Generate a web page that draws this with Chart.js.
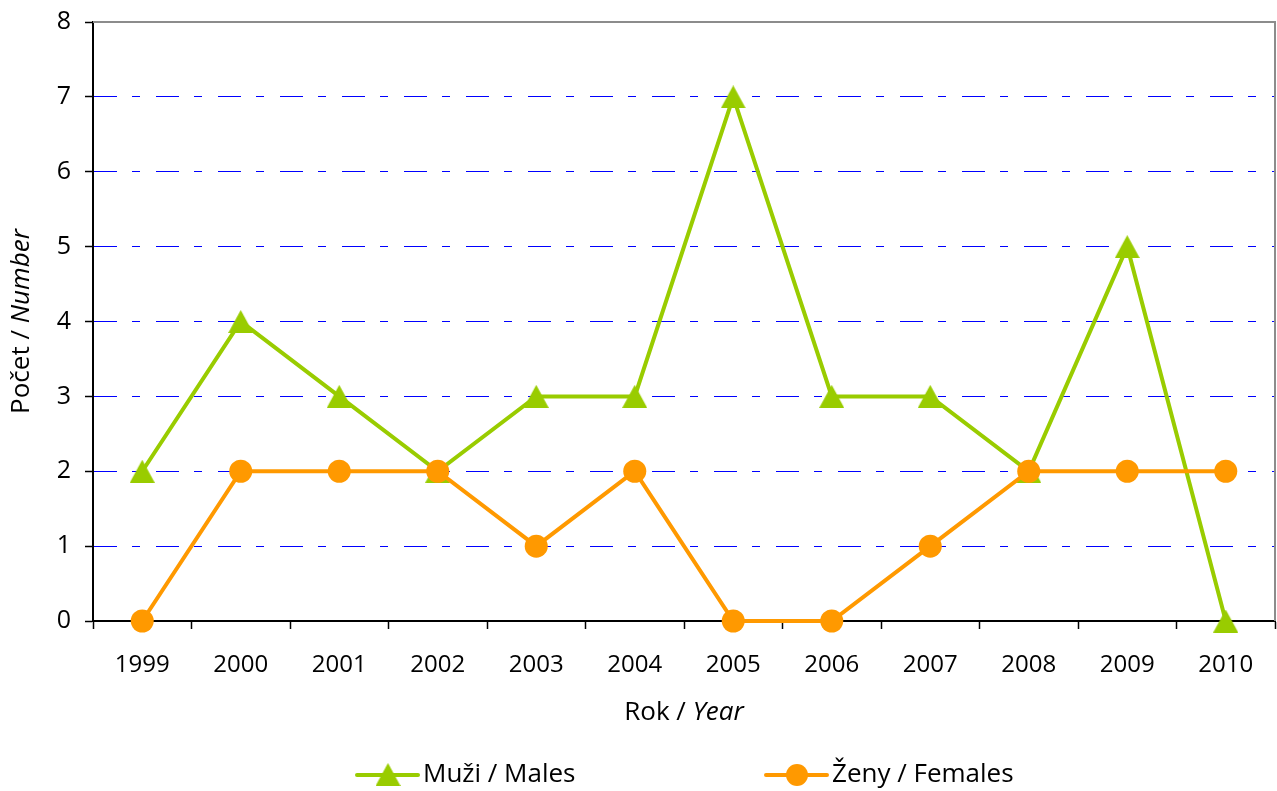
<!DOCTYPE html>
<html>
<head>
<meta charset="utf-8">
<script src="https://cdn.jsdelivr.net/npm/chart.js@4.4.1/dist/chart.umd.min.js"></script>
<style>
  html, body { margin: 0; padding: 0; background: #fff; }
  #wrap { width: 1277px; height: 791px; }
</style>
</head>
<body>
<div id="wrap"><canvas id="myChart" width="1277" height="791"></canvas></div>
<script>
// data
const years = ["1999", "2000", "2001", "2002", "2003", "2004", "2005", "2006", "2007", "2008", "2009", "2010"];
const males = [2, 4, 3, 2, 3, 3, 7, 3, 3, 2, 5, 0];
const females = [0, 2, 2, 2, 1, 2, 0, 0, 1, 2, 2, 2];
const seriesNames = ["Muži / Males", "Ženy / Females"];
const yTicks = [0, 1, 2, 3, 4, 5, 6, 7, 8];

const GREEN = "#99CC00";
const ORANGE = "#FF9900";
const FONT = "'Open Sans', 'DejaVu Sans', sans-serif";

// triangle marker as an image so it sits centred on the point
function triangleImg(w, h, color) {
    const c = document.createElement("canvas");
    c.width = w; c.height = h;
    const g = c.getContext("2d");
    g.fillStyle = color;
    g.beginPath();
    g.moveTo(w / 2, 0);
    g.lineTo(w, h);
    g.lineTo(0, h);
    g.closePath();
    g.fill();
    return c;
}
const tri = triangleImg(25, 23, GREEN);

// axis titles (with italic english part), frame and legend
const extras = {
    id: "extras",
    afterDraw(chart) {
        const ctx = chart.ctx;
        const a = chart.chartArea;
        ctx.save();

        // grey frame on top and right
        ctx.strokeStyle = "#8c8c8c";
        ctx.lineWidth = 2;
        ctx.beginPath();
        ctx.moveTo(a.left, a.top);
        ctx.lineTo(a.right, a.top);
        ctx.lineTo(a.right, a.bottom);
        ctx.stroke();

        ctx.fillStyle = "#000";
        ctx.textBaseline = "middle";

        function mixed(parts, x, y) {
            let total = 0;
            parts.forEach(p => { ctx.font = p[1]; total += ctx.measureText(p[0]).width; });
            let cx = x - total / 2;
            ctx.textAlign = "left";
            parts.forEach(p => { ctx.font = p[1]; ctx.fillText(p[0], cx, y); cx += ctx.measureText(p[0]).width; });
        }

        // x title
        mixed([["Rok / ", "26px " + FONT], ["Year", "italic 26px " + FONT]], (a.left + a.right) / 2, 713);

        // y title
        ctx.save();
        ctx.translate(22, (a.top + a.bottom) / 2);
        ctx.rotate(-Math.PI / 2);
        mixed([["Počet / ", "26px " + FONT], ["Number", "italic 26px " + FONT]], 0, 0);
        ctx.restore();

        // legend
        const ly = 775;
        const items = [
            { x: 357, color: GREEN, label: seriesNames[0], tri: true },
            { x: 766, color: ORANGE, label: seriesNames[1], tri: false }
        ];
        items.forEach(it => {
            ctx.strokeStyle = it.color;
            ctx.lineWidth = 4;
            ctx.lineCap = "round";
            ctx.beginPath();
            ctx.moveTo(it.x, ly);
            ctx.lineTo(it.x + 61, ly);
            ctx.stroke();
            const mx = it.x + 31;
            if (it.tri) {
                ctx.drawImage(tri, mx - 12.5, ly - 12, 25, 23);
            } else {
                ctx.fillStyle = it.color;
                ctx.beginPath();
                ctx.arc(mx, ly, 11, 0, Math.PI * 2);
                ctx.fill();
            }
            ctx.fillStyle = "#000";
            ctx.font = "26px " + FONT;
            ctx.textAlign = "left";
            ctx.fillText(it.label, it.x + 66, ly);
        });
        ctx.restore();
    }
};

const data = {
    labels: years,
    datasets: [
        {
            label: seriesNames[0],
            data: males,
            borderColor: GREEN,
            backgroundColor: GREEN,
            borderWidth: 4,
            pointStyle: tri,
            pointRadius: 12,
            clip: false,
            order: 1,
        },
        {
            label: seriesNames[1],
            data: females,
            borderColor: ORANGE,
            backgroundColor: ORANGE,
            borderWidth: 4,
            pointStyle: "circle",
            pointRadius: 11.5,
            pointBorderWidth: 0,
            clip: false,
            order: 0,
        },
    ],
};

const config = {
    type: "line",
    data: data,
    options: {
        responsive: false,
        animation: false,
        layout: { autoPadding: false, padding: { top: 22, right: 2, bottom: 70, left: 0 } },
        plugins: {
            legend: { display: false },
            tooltip: { enabled: false },
        },
        scales: {
            x: {
                offset: true,
                grid: {
                    offset: true,
                    drawOnChartArea: false,
                    tickLength: 8,
                    tickColor: "#000",
                    tickWidth: 1.5,
                },
                border: { color: "#000", width: 2 },
                ticks: {
                    color: "#000",
                    font: { family: FONT, size: 24 },
                    padding: 22,
                    maxRotation: 0,
                },
                afterFit(scale) {
                    scale.height = 100;
                    scale.paddingLeft = 0;
                    scale.paddingRight = 0;
                },
            },
            y: {
                min: 0,
                max: 8,
                afterBuildTicks(scale) { scale.ticks = yTicks.map(v => ({ value: v })); },
                grid: {
                    color: ctx => (ctx.tick && (ctx.tick.value === 0 || ctx.tick.value === 8)) ? "rgba(0,0,0,0)" : "#0000FF",
                    lineWidth: 1,
                    tickLength: 8,
                    tickColor: "#000",
                    tickWidth: 1.5,
                },
                border: { color: "#000", width: 2, dash: [23, 15, 8, 16] },
                ticks: {
                    color: "#000",
                    font: { family: FONT, size: 25 },
                    padding: 14,
                },
                afterFit(scale) {
                    scale.width = 93;
                    scale.paddingTop = 0;
                    scale.paddingBottom = 0;
                },
            },
        },
    },
    plugins: [extras],
};
const myChart = new Chart(document.getElementById("myChart"), config);
</script>
</body>
</html>
